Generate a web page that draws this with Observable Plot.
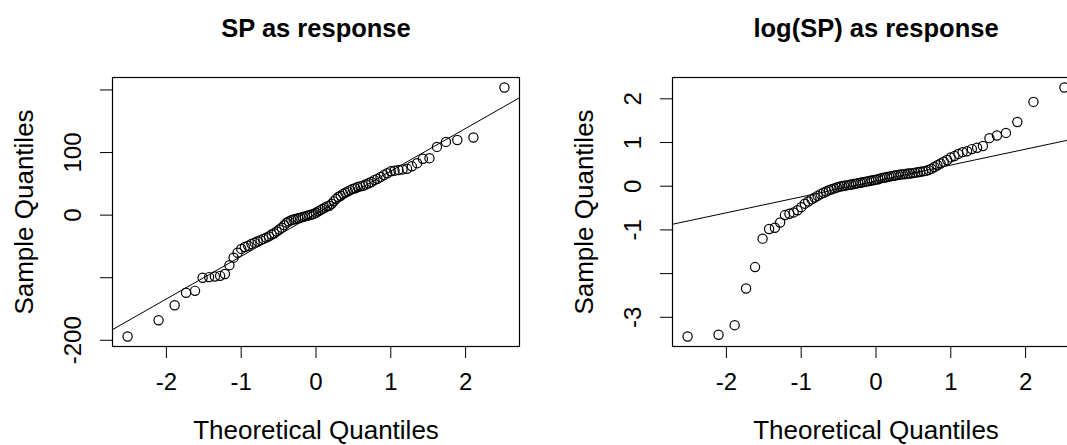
<!DOCTYPE html>
<html><head><meta charset="utf-8">
<script src="https://cdn.jsdelivr.net/npm/d3@7"></script>
<script src="https://cdn.jsdelivr.net/npm/@observablehq/plot@0.6"></script>
<style>
html,body{margin:0;padding:0;background:#fff;overflow:hidden;}
#wrap{display:flex;width:1120px;height:445px;}
svg{font-family:"Liberation Sans",Arial,sans-serif;}
</style></head><body><div id="wrap"></div>
<script>
// Sorted sample quantiles (n = 85 each)
const spSample = [-194,-168,-144,-124,-121,-100,-99,-98,-97,-94,
-80,-68,-60,-54,-51,-49,-46,-44,-42,-40,
-38,-36,-34,-31,-29,-26,-23,-20,-16,-12,
-10,-8,-7,-6,-5,-4,-3,-2,-1,0,
1,2,4,6,8,10,12,14,15,18,
22,26,29,31,34,36,38,40,42,43,
45,46,47,49,51,53,56,58,61,64,
67,70,71,72,73,74,78,83,90,91,
109,117,120,124,204];
const logSample = [-3.44,-3.40,-3.18,-2.34,-1.85,-1.20,-0.98,-0.95,-0.83,-0.66,
-0.63,-0.60,-0.55,-0.48,-0.40,-0.35,-0.30,-0.26,-0.22,-0.18,
-0.15,-0.12,-0.09,-0.07,-0.05,-0.03,-0.01,0.00,0.01,0.02,
0.03,0.04,0.05,0.06,0.07,0.08,0.09,0.10,0.11,0.12,
0.13,0.14,0.15,0.16,0.18,0.19,0.20,0.21,0.22,0.23,
0.24,0.25,0.26,0.27,0.27,0.28,0.29,0.29,0.30,0.31,
0.32,0.33,0.34,0.35,0.37,0.40,0.44,0.48,0.52,0.56,
0.60,0.66,0.69,0.74,0.78,0.80,0.85,0.88,0.92,1.10,
1.16,1.22,1.47,1.93,2.26];
// qqline parameters (intercept, slope)
const spLine = [2.3, 68.1];
const logLine = [0.12, 0.364];
const titles = ["SP as response", "log(SP) as response"];
const xTicks = [-2,-1,0,1,2];
const xTickLabels = ["-2","-1","0","1","2"];
const spTicks = [-200,-100,0,100,200];
const spTickLabels = ["-200","","0","100",""];
const logTicks = [-3,-2,-1,0,1,2];
const logTickLabels = ["-3","","-1","0","1","2"];
const xLabel = "Theoretical Quantiles";
const yLabel = "Sample Quantiles";

function qnorm(p){
  const a=[-3.969683028665376e+01,2.209460984245205e+02,-2.759285104469687e+02,1.383577518672690e+02,-3.066479806614716e+01,2.506628277459239e+00];
  const b=[-5.447609879822406e+01,1.615858368580409e+02,-1.556989798598866e+02,6.680131188771972e+01,-1.328068155288572e+01];
  const c=[-7.784894002430293e-03,-3.223964580411365e-01,-2.400758277161838e+00,-2.549732539343734e+00,4.374664141464968e+00,2.938163982698783e+00];
  const d=[7.784695709041462e-03,3.224671290700398e-01,2.445134137142996e+00,3.754408661907416e+00];
  const pl=0.02425, ph=1-pl; let q,r;
  if(p<pl){q=Math.sqrt(-2*Math.log(p));return (((((c[0]*q+c[1])*q+c[2])*q+c[3])*q+c[4])*q+c[5])/((((d[0]*q+d[1])*q+d[2])*q+d[3])*q+1);}
  if(p>ph){q=Math.sqrt(-2*Math.log(1-p));return -(((((c[0]*q+c[1])*q+c[2])*q+c[3])*q+c[4])*q+c[5])/((((d[0]*q+d[1])*q+d[2])*q+d[3])*q+1);}
  q=p-0.5;r=q*q;return (((((a[0]*r+a[1])*r+a[2])*r+a[3])*r+a[4])*r+a[5])*q/(((((b[0]*r+b[1])*r+b[2])*r+b[3])*r+b[4])*r+1);
}
function pad(ext){const r=ext[1]-ext[0];return [ext[0]-0.04*r, ext[1]+0.04*r];}

function panel(title, sample, line, yTicks, yTickLabels){
  const n = sample.length;
  const pts = sample.map((v,i)=>({q: qnorm((i+0.5)/n), v}));
  const xd = pad(d3.extent(pts, d=>d.q));
  const yd = pad(d3.extent(sample));
  const lineData = xd.map(x=>({x, y: line[0]+line[1]*x}));
  const font = 26;
  return Plot.plot({
    width: 560, height: 445,
    marginLeft: 112, marginRight: 41, marginTop: 77, marginBottom: 99,
    style: {fontFamily: '"Liberation Sans",Arial,sans-serif', fontSize: "24px", color: "black", background: "white"},
    x: {domain: xd},
    y: {domain: yd},
    marks: [
      Plot.frame({stroke: "black", strokeWidth: 1.2}),
      Plot.line(lineData, {x: "x", y: "y", stroke: "black", strokeWidth: 1, clip: true}),
      Plot.dot(pts, {x: "q", y: "v", r: 4.6, stroke: "black", strokeWidth: 1.2, fill: "none"}),
      Plot.axisX({ticks: xTicks, tickFormat: d=>xTickLabels[xTicks.indexOf(d)], tickSize: 12, tickPadding: 14, fontSize: 24, label: null}),
      Plot.axisY({ticks: yTicks, tickFormat: d=>yTickLabels[yTicks.indexOf(d)], tickSize: 12, tickRotate: -90, tickPadding: 20, fontSize: 24, label: null}),
      Plot.text([title], {frameAnchor: "top", dy: -49, fontWeight: "bold", fontSize: 25.5, lineAnchor: "middle", textAnchor: "middle"}),
      Plot.text([xLabel], {frameAnchor: "bottom", dy: 84, fontSize: font, lineAnchor: "middle", textAnchor: "middle"}),
      Plot.text([yLabel], {frameAnchor: "left", dx: -88, rotate: -90, fontSize: font, lineAnchor: "middle", textAnchor: "middle"})
    ]
  });
}
const wrap = document.getElementById("wrap");
wrap.appendChild(panel(titles[0], spSample, spLine, spTicks, spTickLabels));
wrap.appendChild(panel(titles[1], logSample, logLine, logTicks, logTickLabels));
</script></body></html>
